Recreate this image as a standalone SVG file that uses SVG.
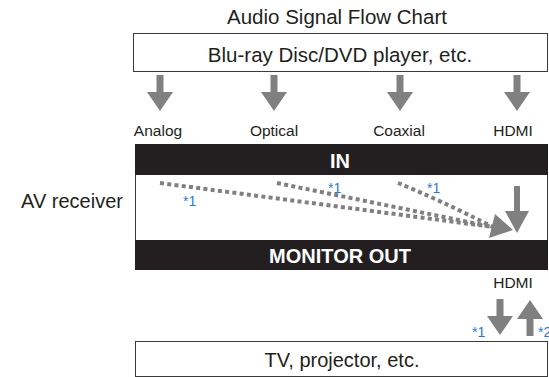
<svg xmlns="http://www.w3.org/2000/svg" width="549" height="377" viewBox="0 0 549 377">
<style>
text{font-family:"Liberation Sans",Arial,sans-serif;fill:#231f20}
.c{text-anchor:middle}
.box{fill:#fff;stroke:#3a3a3a;stroke-width:1}
.arr{fill:#808080}
.dot{fill:none;stroke:#808080;stroke-width:4;stroke-dasharray:4 3.3}
.note{fill:#1f7ae6;font-size:14px}
.lbl{font-size:15.5px}
.bar{fill:#231f20}
.bt{fill:#fff;font-weight:bold;font-size:20px}
</style>
<defs>
<polygon id="down" points="-3.5,0 3.5,0 3.5,17 13,17 0,36 -13,17 -3.5,17"/>
<polygon id="downlong" points="-3,0 3,0 3,25 12,25 0,47 -12,25 -3,25"/>
</defs>
<text class="c" x="337" y="24" font-size="20.5">Audio Signal Flow Chart</text>
<g id="player">
<rect class="box" x="133.5" y="33.5" width="414" height="38"/>
<text class="c" x="340" y="62" font-size="20.5">Blu-ray Disc/DVD player, etc.</text>
</g>
<g id="inputs">
<use href="#down" class="arr" x="160" y="75"/>
<use href="#down" class="arr" x="274" y="75"/>
<use href="#down" class="arr" x="400" y="75"/>
<use href="#down" class="arr" x="517" y="75"/>
<text class="c lbl" x="158" y="136">Analog</text>
<text class="c lbl" x="274" y="136">Optical</text>
<text class="c lbl" x="399" y="136">Coaxial</text>
<text class="c lbl" x="513" y="136">HDMI</text>
</g>
<text class="c" x="72" y="208" font-size="20">AV receiver</text>
<g id="receiver">
<rect class="box" x="135.5" y="144.5" width="412" height="125"/>
<rect class="bar" x="135" y="144" width="413" height="31"/>
<rect class="bar" x="135" y="240" width="413" height="30"/>
<text class="c bt" x="340" y="168">IN</text>
<text class="c bt" x="340" y="263">MONITOR OUT</text>
</g>
<g id="connectors">
<path class="dot" d="M160,183 L493,227"/>
<path class="dot" d="M277,183 L493,227"/>
<path class="dot" d="M398,183 Q440,200 493,227"/>
<polygon class="arr" points="495,214 513,230 489,238"/>
<use href="#downlong" class="arr" x="517" y="186"/>
<text class="note" x="183" y="206">*1</text>
<text class="note" x="328" y="193">*1</text>
<text class="note" x="427" y="193">*1</text>
</g>
<g id="hdmi-out">
<text class="c lbl" x="513" y="288">HDMI</text>
<use href="#down" class="arr" x="500" y="299"/>
<use href="#down" class="arr" transform="translate(530,336) scale(1,-1)"/>
<text class="note" x="472" y="337">*1</text>
<text class="note" x="538" y="337">*2</text>
</g>
<g id="tv">
<rect class="box" x="135.5" y="341.5" width="412" height="35"/>
<text class="c" x="342" y="367" font-size="20">TV, projector, etc.</text>
</g>
</svg>
